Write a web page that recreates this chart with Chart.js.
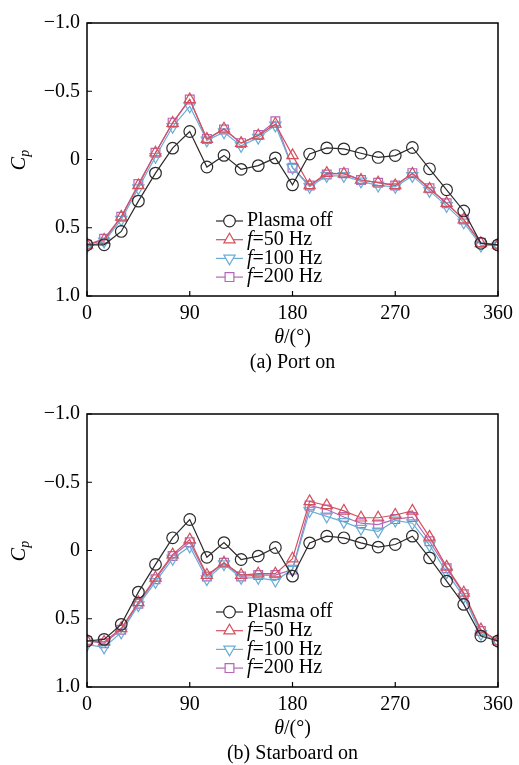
<!DOCTYPE html>
<html>
<head>
<meta charset="utf-8">
<script src="https://cdn.jsdelivr.net/npm/chart.js@4.4.0/dist/chart.umd.min.js"></script>
<style>
  html, body { margin: 0; padding: 0; background: #fff; overflow: hidden; }
  canvas { position: absolute; left: 0; }
</style>
</head>
<body>
<canvas id="portChart" width="519" height="382" style="top:0"></canvas>
<canvas id="starboardChart" width="519" height="374" style="top:391px"></canvas>
<script>
// pressure coefficient around the hull, one value every 15 degrees
const angles = [0, 15, 30, 45, 60, 75, 90, 105, 120, 135, 150, 165, 180,
                195, 210, 225, 240, 255, 270, 285, 300, 315, 330, 345, 360];

const seriesNames = ['Plasma off', 'f=50 Hz', 'f=100 Hz', 'f=200 Hz'];
const xTickValues = [0, 90, 180, 270, 360];
const xTickLabels = ['0', '90', '180', '270', '360'];
const yTickValues = [-1, -0.5, 0, 0.5, 1];
const yTickLabels = ['\u22121.0', '\u22120.5', '0', '0.5', '1.0'];

// (a) port actuator on
const portOff   = [0.625, 0.625, 0.527, 0.305, 0.10, -0.083, -0.205, 0.055, -0.03, 0.072, 0.045, -0.012, 0.186,
                   -0.04, -0.085, -0.078, -0.046, -0.015, -0.029, -0.088, 0.068, 0.222, 0.377, 0.614, 0.626];
const port50    = [0.625, 0.59, 0.42, 0.19, -0.05, -0.267, -0.44, -0.15, -0.225, -0.12, -0.175, -0.26, -0.03,
                   0.19, 0.10, 0.105, 0.15, 0.17, 0.19, 0.105, 0.215, 0.32, 0.44, 0.614, 0.626];
const port100   = [0.64, 0.60, 0.44, 0.21, -0.02, -0.24, -0.39, -0.14, -0.20, -0.10, -0.16, -0.25, 0.06,
                   0.20, 0.12, 0.12, 0.16, 0.19, 0.20, 0.12, 0.23, 0.34, 0.46, 0.63, 0.63];
const port200   = [0.625, 0.58, 0.42, 0.18, -0.05, -0.27, -0.44, -0.15, -0.22, -0.12, -0.18, -0.28, 0.06,
                   0.19, 0.11, 0.10, 0.15, 0.17, 0.19, 0.10, 0.21, 0.32, 0.44, 0.61, 0.626];

// (b) starboard actuator on
const starOff   = [0.663, 0.651, 0.541, 0.305, 0.102, -0.093, -0.227, 0.05, -0.058, 0.066, 0.041, -0.022, 0.188,
                   -0.056, -0.105, -0.093, -0.056, -0.025, -0.044, -0.105, 0.054, 0.224, 0.395, 0.627, 0.663];
const star50    = [0.663, 0.67, 0.57, 0.38, 0.20, 0.03, -0.08, 0.18, 0.09, 0.18, 0.17, 0.17, 0.06,
                   -0.36, -0.33, -0.29, -0.24, -0.24, -0.26, -0.29, -0.10, 0.12, 0.31, 0.58, 0.663];
const star100   = [0.69, 0.71, 0.60, 0.40, 0.23, 0.06, -0.03, 0.21, 0.10, 0.20, 0.20, 0.22, 0.14,
                   -0.29, -0.25, -0.21, -0.16, -0.14, -0.22, -0.20, -0.04, 0.16, 0.34, 0.61, 0.67];
const star200   = [0.663, 0.68, 0.58, 0.39, 0.21, 0.04, -0.06, 0.19, 0.09, 0.19, 0.18, 0.18, 0.14,
                   -0.33, -0.30, -0.245, -0.20, -0.19, -0.23, -0.245, -0.068, 0.13, 0.32, 0.59, 0.663];

const SERIF = '"Liberation Serif", "Times New Roman", serif';

const styles = [
  { color: '#2b2b2b', pointStyle: 'circle',   rotation: 0,   radius: 5.8 },
  { color: '#d4505e', pointStyle: 'triangle', rotation: 0,   radius: 6.5 },
  { color: '#69aed4', pointStyle: 'triangle', rotation: 180, radius: 6.5 },
  { color: '#b466b8', pointStyle: 'rect',     rotation: 0,   radius: 6.2 }
];

function makeDatasets(seriesList) {
  return seriesList.map((vals, i) => ({
    label: seriesNames[i],
    data: angles.map((a, k) => ({ x: a, y: vals[k] })),
    borderColor: styles[i].color,
    borderWidth: 1.2,
    pointStyle: styles[i].pointStyle,
    rotation: styles[i].rotation,
    pointRadius: styles[i].radius,
    pointBorderWidth: 1.2,
    pointBorderColor: styles[i].color,
    pointBackgroundColor: 'rgba(0,0,0,0)',
    tension: 0
  }));
}

function tickText(values, labels, v) {
  const k = values.findIndex(t => Math.abs(t - v) < 1e-9);
  return k >= 0 ? labels[k] : '';
}

// label with an italic leading symbol, e.g. "f=50 Hz" or "θ/(°)"
function drawMixed(ctx, italicPart, rest, x, y, size, align) {
  ctx.font = 'italic ' + size + 'px ' + SERIF;
  const w1 = ctx.measureText(italicPart).width;
  ctx.font = size + 'px ' + SERIF;
  const w2 = ctx.measureText(rest).width;
  let x0 = align === 'center' ? x - (w1 + w2) / 2 : x;
  ctx.textAlign = 'left';
  ctx.font = 'italic ' + size + 'px ' + SERIF;
  ctx.fillText(italicPart, x0, y);
  ctx.font = size + 'px ' + SERIF;
  ctx.fillText(rest, x0 + w1, y);
}

const paperDecor = {
  id: 'paperDecor',
  afterDraw(chart, args, opts) {
    const { ctx, chartArea: a, scales: { x, y } } = chart;
    ctx.save();
    ctx.fillStyle = '#000';
    ctx.strokeStyle = '#000';

    // frame and inward ticks
    ctx.lineWidth = 1.5;
    ctx.strokeRect(a.left, a.top, a.right - a.left, a.bottom - a.top);
    ctx.lineWidth = 1.2;
    ctx.beginPath();
    x.ticks.forEach(t => {
      const px = x.getPixelForValue(t.value);
      ctx.moveTo(px, a.bottom);
      ctx.lineTo(px, a.bottom - 5);
    });
    y.ticks.forEach(t => {
      const py = y.getPixelForValue(t.value);
      ctx.moveTo(a.left, py);
      ctx.lineTo(a.left + 5, py);
    });
    ctx.stroke();

    const cx = (a.left + a.right) / 2;
    const cy = (a.top + a.bottom) / 2;
    ctx.textBaseline = 'middle';

    // y axis title C_p
    ctx.save();
    ctx.translate(20, cy);
    ctx.rotate(-Math.PI / 2);
    ctx.font = 'italic 20px ' + SERIF;
    const cw = ctx.measureText('C').width;
    const tw = cw + 8;
    ctx.textAlign = 'left';
    ctx.fillText('C', -tw / 2, 0);
    ctx.font = 'italic 14px ' + SERIF;
    ctx.fillText('p', -tw / 2 + cw, 5);
    ctx.restore();

    // x axis title and panel caption
    drawMixed(ctx, '\u03b8', '/(\u00b0)', cx, a.bottom + 42, 20, 'center');
    ctx.font = '20px ' + SERIF;
    ctx.textAlign = 'center';
    ctx.fillText(opts.caption, cx, a.bottom + 67);

    // legend: line with marker, then label
    const lx = a.left + 129, ly = a.top + 198, gap = 18.7;
    chart.data.datasets.forEach((ds, i) => {
      const st = styles[i];
      const yy = ly + i * gap;
      ctx.strokeStyle = st.color;
      ctx.lineWidth = 1.2;
      ctx.beginPath();
      ctx.moveTo(lx, yy);
      ctx.lineTo(lx + 27, yy);
      ctx.stroke();
      ctx.fillStyle = '#fff';
      Chart.helpers.drawPoint(ctx, {
        pointStyle: st.pointStyle, rotation: st.rotation, radius: st.radius, borderWidth: 1.2
      }, lx + 13.5, yy);
      ctx.fillStyle = '#000';
      const name = ds.label;
      if (name.startsWith('f=')) {
        drawMixed(ctx, 'f', name.slice(1), lx + 31, yy, 20, 'left');
      } else {
        ctx.font = '20px ' + SERIF;
        ctx.textAlign = 'left';
        ctx.fillText(name, lx + 31, yy);
      }
    });
    ctx.restore();
  }
};

function makeChart(id, seriesList, caption, height) {
  return new Chart(document.getElementById(id).getContext('2d'), {
    type: 'line',
    data: { datasets: makeDatasets(seriesList) },
    options: {
      responsive: false,
      animation: false,
      layout: { padding: { top: 23, right: 16, left: 0, bottom: 0 } },
      scales: {
        x: {
          type: 'linear',
          min: 0, max: 360,
          grid: { display: false, drawTicks: false },
          border: { display: false },
          ticks: {
            stepSize: 90, padding: 6, color: '#000',
            font: { family: SERIF, size: 20 },
            maxRotation: 0,
            callback: v => tickText(xTickValues, xTickLabels, v)
          },
          afterFit: s => { s.height = height - 296; }
        },
        y: {
          min: -1, max: 1, reverse: true,
          grid: { display: false, drawTicks: false },
          border: { display: false },
          ticks: {
            stepSize: 0.5, padding: 7, color: '#000',
            font: { family: SERIF, size: 20 },
            callback: v => tickText(yTickValues, yTickLabels, v)
          },
          afterFit: s => { s.width = 87; }
        }
      },
      plugins: {
        legend: { display: false },
        tooltip: { enabled: false },
        paperDecor: { caption: caption }
      }
    },
    plugins: [paperDecor]
  });
}

makeChart('portChart', [portOff, port50, port100, port200], '(a) Port on', 382);
makeChart('starboardChart', [starOff, star50, star100, star200], '(b) Starboard on', 374);
</script>
</body>
</html>
